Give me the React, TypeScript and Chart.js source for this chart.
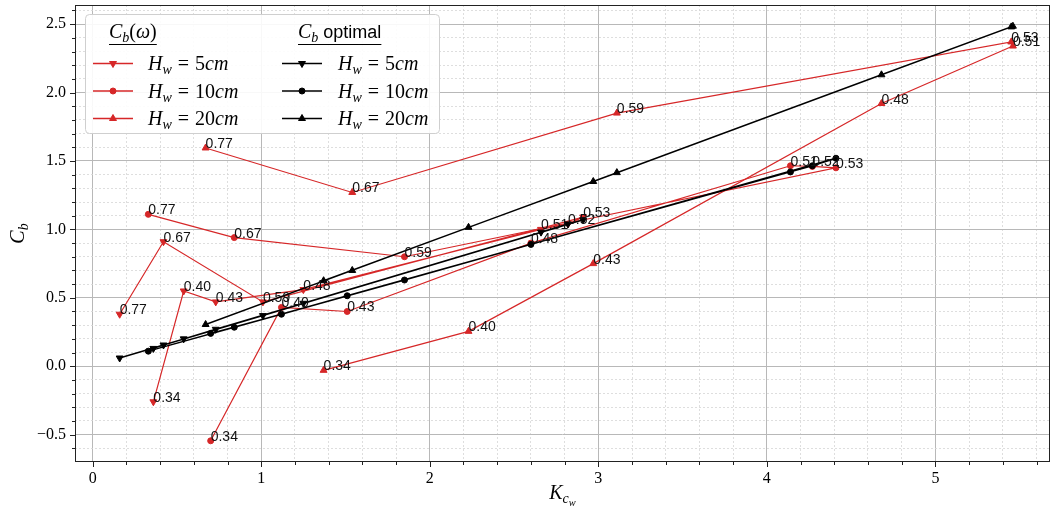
import React, { useEffect, useRef } from "react";
import { Chart, registerables } from "chart.js";
Chart.register(...registerables);

// ---------------- data ----------------
const waveLabels5 = ["0.77", "0.67", "0.59", "0.53", "0.52", "0.51", "0.48", "0.43", "0.40", "0.34"];
const kc5 = [0.16, 0.42, 1.01, 2.91, 2.82, 2.66, 1.25, 0.73, 0.54, 0.36];
const cbOmega5 = [0.38, 0.91, 0.47, 1.09, 1.04, 1.0, 0.56, 0.47, 0.55, -0.26];
const cbOpt5 = [0.06, 0.155, 0.37, 1.07, 1.04, 0.98, 0.46, 0.27, 0.2, 0.13];

const waveLabels10 = ["0.77", "0.67", "0.59", "0.53", "0.52", "0.51", "0.48", "0.43", "0.40", "0.34"];
const kc10 = [0.33, 0.84, 1.85, 4.41, 4.27, 4.14, 2.6, 1.51, 1.12, 0.7];
const cbOmega10 = [1.11, 0.94, 0.8, 1.45, 1.46, 1.465, 0.9, 0.4, 0.43, -0.545];
const cbOpt10 = [0.11, 0.285, 0.63, 1.52, 1.465, 1.42, 0.89, 0.515, 0.38, 0.24];

const waveLabels20 = ["0.77", "0.67", "0.59", "0.53", "0.51", "0.48", "0.43", "0.40", "0.34"];
const kc20 = [0.67, 1.54, 3.11, 5.45, 5.46, 4.68, 2.97, 2.23, 1.37];
const cbOmega20 = [1.595, 1.27, 1.85, 2.37, 2.34, 1.92, 0.75, 0.255, -0.03];
const cbOpt20 = [0.305, 0.7, 1.415, 2.48, 2.485, 2.13, 1.35, 1.015, 0.625];

const heightLabels = ["5", "10", "20"];
const markerKinds = ["down", "circle", "up"];

const xMin = -0.105;
const xMax = 5.68;
const yMin = -0.7;
const yMax = 2.64;

const RED = "#d62728";
const BLACK = "#000000";

// ---------------- helpers ----------------
type Seg = { t: string; it?: boolean; sub?: number; sans?: boolean; padL?: number; padR?: number; scale?: number };

function segFont(s: Seg, size: number) {
  const lvl = s.sub || 0;
  let sz = lvl === 0 ? size : lvl === 1 ? size * 0.7 : size * 0.52;
  if (s.scale) sz *= s.scale;
  const fam = s.sans
    ? '"Liberation Sans", "DejaVu Sans", sans-serif'
    : '"Liberation Serif", "DejaVu Serif", serif';
  const dy = lvl === 0 ? 0 : lvl === 1 ? size * 0.22 : size * 0.36;
  return { font: `${s.it ? "italic " : ""}${sz}px ${fam}`, dy };
}
function measureMath(ctx: CanvasRenderingContext2D, segs: Seg[], size: number) {
  let w = 0;
  for (const s of segs) {
    const f = segFont(s, size);
    ctx.font = f.font;
    w += (s.padL || 0) * size + ctx.measureText(s.t).width + (s.padR || 0) * size;
  }
  return w;
}
function drawMath(ctx: CanvasRenderingContext2D, segs: Seg[], x: number, y: number, size: number) {
  let cx = x;
  ctx.textAlign = "left";
  ctx.textBaseline = "alphabetic";
  for (const s of segs) {
    const f = segFont(s, size);
    ctx.font = f.font;
    cx += (s.padL || 0) * size;
    ctx.fillText(s.t, cx, y + f.dy);
    cx += ctx.measureText(s.t).width + (s.padR || 0) * size;
  }
  return cx - x;
}
function drawMarker(ctx: CanvasRenderingContext2D, kind: string, x: number, y: number, r: number, color: string) {
  ctx.fillStyle = color;
  ctx.strokeStyle = color;
  ctx.lineWidth = 1;
  ctx.beginPath();
  if (kind === "circle") {
    ctx.arc(x, y, r, 0, Math.PI * 2);
  } else {
    const s = kind === "up" ? 1 : -1;
    ctx.moveTo(x, y - s * r);
    ctx.lineTo(x + r * 0.866, y + s * r * 0.5);
    ctx.lineTo(x - r * 0.866, y + s * r * 0.5);
    ctx.closePath();
  }
  ctx.fill();
  ctx.stroke();
}
const isInt = (v: number) => Math.abs(v - Math.round(v)) < 1e-6;
const isHalf = (v: number) => Math.abs(v * 2 - Math.round(v * 2)) < 1e-6;

const pts = (xs: number[], ys: number[]) => xs.map((x, i) => ({ x, y: ys[i] }));

function series(xs: number[], ys: number[], color: string, kind: string, red: boolean, labels?: string[]) {
  return {
    data: pts(xs, ys),
    showLine: true,
    borderColor: color,
    backgroundColor: color,
    borderWidth: red ? 1.2 : 1.4,
    pointStyle: kind === "circle" ? "circle" : "triangle",
    rotation: kind === "down" ? 180 : 0,
    pointRadius: kind === "circle" ? 3 : 4,
    pointBorderWidth: 1,
    pointBackgroundColor: color,
    pointBorderColor: color,
    order: red ? 2 : 1,
    waveLabels: labels,
  } as any;
}

// ---------------- plugin ----------------
const decorPlugin = {
  id: "decor",
  afterDraw(chart: any) {
    const ctx: CanvasRenderingContext2D = chart.ctx;
    const a = chart.chartArea;
    const xs = chart.scales.x;
    const ys = chart.scales.y;
    ctx.save();

    // frame
    ctx.strokeStyle = "#222";
    ctx.lineWidth = 1;
    ctx.strokeRect(a.left + 0.5, a.top + 0.5, a.right - a.left - 1, a.bottom - a.top - 1);

    // tick marks
    ctx.beginPath();
    for (const t of xs.ticks) {
      const px = Math.round(xs.getPixelForValue(t.value)) + 0.5;
      const len = isInt(t.value) ? 5 : 3;
      ctx.moveTo(px, a.bottom);
      ctx.lineTo(px, a.bottom + len);
    }
    for (const t of ys.ticks) {
      const py = Math.round(ys.getPixelForValue(t.value)) + 0.5;
      const len = isHalf(t.value) ? 5 : 3;
      ctx.moveTo(a.left, py);
      ctx.lineTo(a.left - len, py);
    }
    ctx.stroke();

    // data labels on the C_b(omega) points
    ctx.fillStyle = "#111";
    ctx.font = '14px "Liberation Sans", "DejaVu Sans", sans-serif';
    ctx.textAlign = "left";
    ctx.textBaseline = "alphabetic";
    chart.data.datasets.forEach((ds: any, di: number) => {
      if (!ds.waveLabels) return;
      const meta = chart.getDatasetMeta(di);
      meta.data.forEach((el: any, i: number) => {
        ctx.fillText(ds.waveLabels[i], el.x, el.y);
      });
    });

    // legend
    const bx = a.left + 10.5;
    const by = a.top + 9.5;
    const bw = 354;
    const bh = 119;
    ctx.beginPath();
    ctx.roundRect(bx, by, bw, bh, 4);
    ctx.fillStyle = "rgba(255,255,255,0.9)";
    ctx.fill();
    ctx.strokeStyle = "#cfcfcf";
    ctx.lineWidth = 1;
    ctx.stroke();

    ctx.fillStyle = "#000";
    const hs = 20;
    const h1: Seg[] = [{ t: "C", it: true }, { t: "b", it: true, sub: 1 }, { t: "(" }, { t: "ω", it: true }, { t: ")" }];
    const h2: Seg[] = [{ t: "C", it: true }, { t: "b", it: true, sub: 1 }, { t: " optimal", sans: true, scale: 0.9 }];
    const col1 = a.left + 34;
    const col2 = a.left + 223;
    const w1 = drawMath(ctx, h1, col1, a.top + 33, hs);
    const w2 = drawMath(ctx, h2, col2, a.top + 33, hs);
    ctx.strokeStyle = "#000";
    ctx.lineWidth = 1.2;
    ctx.beginPath();
    ctx.moveTo(col1, a.top + 39.5);
    ctx.lineTo(col1 + w1, a.top + 39.5);
    ctx.moveTo(col2, a.top + 39.5);
    ctx.lineTo(col2 + w2, a.top + 39.5);
    ctx.stroke();

    const rowY = [a.top + 58, a.top + 85.5, a.top + 113];
    heightLabels.forEach((h, i) => {
      const segs: Seg[] = [
        { t: "H", it: true },
        { t: "w", it: true, sub: 1 },
        { t: "=", padL: 0.3, padR: 0.3 },
        { t: h },
        { t: "cm", it: true },
      ];
      const y = rowY[i];
      [
        { c: RED, lx: a.left + 18, tx: a.left + 73 },
        { c: BLACK, lx: a.left + 207, tx: a.left + 263 },
      ].forEach((col) => {
        ctx.strokeStyle = col.c;
        ctx.lineWidth = 1.4;
        ctx.beginPath();
        ctx.moveTo(col.lx, y + 0.5);
        ctx.lineTo(col.lx + 40, y + 0.5);
        ctx.stroke();
        drawMarker(ctx, markerKinds[i], col.lx + 20, y + 0.5, markerKinds[i] === "circle" ? 3 : 4, col.c);
        ctx.fillStyle = "#000";
        drawMath(ctx, segs, col.tx, y + 7, hs);
      });
    });

    // axis titles
    ctx.fillStyle = "#000";
    const xt: Seg[] = [{ t: "K", it: true }, { t: "c", it: true, sub: 1 }, { t: "w", it: true, sub: 2 }];
    const xw = measureMath(ctx, xt, 20);
    drawMath(ctx, xt, (a.left + a.right) / 2 - xw / 2, a.bottom + 37, 20);

    const yt: Seg[] = [{ t: "C", it: true }, { t: "b", it: true, sub: 1 }];
    const yw = measureMath(ctx, yt, 20);
    ctx.translate(24, (a.top + a.bottom) / 2);
    ctx.rotate(-Math.PI / 2);
    drawMath(ctx, yt, -yw / 2, 0, 20);

    ctx.restore();
  },
};

// ---------------- component ----------------
export default function App() {
  const ref = useRef<HTMLCanvasElement>(null);
  useEffect(() => {
    const datasets = [
      series(kc5, cbOmega5, RED, markerKinds[0], true, waveLabels5),
      series(kc10, cbOmega10, RED, markerKinds[1], true, waveLabels10),
      series(kc20, cbOmega20, RED, markerKinds[2], true, waveLabels20),
      series(kc5, cbOpt5, BLACK, markerKinds[0], false),
      series(kc10, cbOpt10, BLACK, markerKinds[1], false),
      series(kc20, cbOpt20, BLACK, markerKinds[2], false),
    ];
    const tickFont = { family: '"Liberation Serif", "DejaVu Serif", serif', size: 16 };
    const zeroPad = (s: any) => {
      s.paddingLeft = 0;
      s.paddingRight = 0;
      s.paddingTop = 0;
      s.paddingBottom = 0;
    };
    const chart = new Chart(ref.current!, {
      type: "scatter",
      data: { datasets },
      options: {
        animation: false,
        responsive: false,
        devicePixelRatio: 1,
        events: [],
        layout: { padding: { top: 4, right: 1, left: 0, bottom: 0 } },
        plugins: { legend: { display: false }, tooltip: { enabled: false } },
        scales: {
          x: {
            type: "linear",
            min: xMin,
            max: xMax,
            afterFit: (s: any) => {
              s.height = 49;
              zeroPad(s);
            },
            ticks: {
              stepSize: 0.2,
              includeBounds: false,
              autoSkip: false,
              maxRotation: 0,
              padding: 7,
              color: "#000",
              font: tickFont,
              callback: (v: any) => (isInt(v) ? String(Math.round(v)) : ""),
            },
            grid: {
              drawTicks: false,
              color: (c: any) => (c.tick && isInt(c.tick.value) ? "#b8b8b8" : "#d6d6d6"),
              lineWidth: (c: any) => (c.tick && isInt(c.tick.value) ? 1 : 0.8),
            },
            border: {
              display: false,
              dash: (c: any) => (c.tick && !isInt(c.tick.value) ? [2, 2] : []),
            },
          },
          y: {
            type: "linear",
            min: yMin,
            max: yMax,
            afterFit: (s: any) => {
              s.width = 75;
              zeroPad(s);
            },
            ticks: {
              stepSize: 0.1,
              includeBounds: false,
              autoSkip: false,
              padding: 9,
              color: "#000",
              font: tickFont,
              callback: (v: any) => {
                if (!isHalf(v)) return "";
                const r = Math.round(v * 2) / 2;
                return (r < 0 ? "\u2212" : "") + Math.abs(r).toFixed(1);
              },
            },
            grid: {
              drawTicks: false,
              color: (c: any) => (c.tick && isHalf(c.tick.value) ? "#b8b8b8" : "#d6d6d6"),
              lineWidth: (c: any) => (c.tick && isHalf(c.tick.value) ? 1 : 0.8),
            },
            border: {
              display: false,
              dash: (c: any) => (c.tick && !isHalf(c.tick.value) ? [2, 2] : []),
            },
          },
        },
      },
      plugins: [decorPlugin],
    } as any);
    return () => chart.destroy();
  }, []);
  return (
    <div style={{ position: "fixed", left: 0, top: 0, width: 1055, height: 511, background: "#fff" }}>
      <canvas ref={ref} width={1055} height={511} style={{ display: "block", width: 1055, height: 511 }} />
    </div>
  );
}
